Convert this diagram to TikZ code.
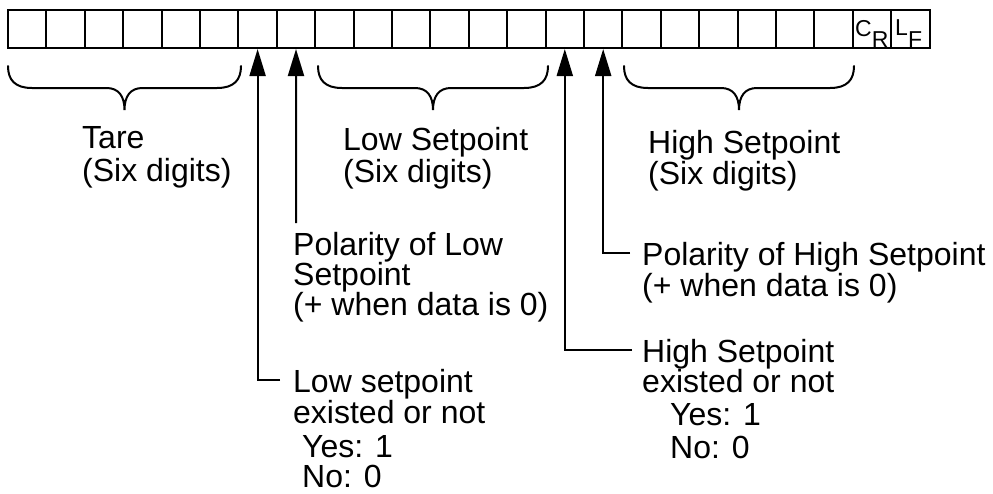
\documentclass[tikz,border=0pt]{standalone}
\usepackage{fontspec}
\setmainfont{Liberation Sans}
\usetikzlibrary{arrows.meta}
\newcommand{\mybrace}[3]{% left x, right x, name
  \draw[bracestyle] (#1,66) .. controls (#1,80) and ({#1+7},88) .. ({#1+24},88)
    -- ({(#1+#2)/2-18},88) .. controls ({(#1+#2)/2-6},88) and ({(#1+#2)/2},96) .. ({(#1+#2)/2},110)
    .. controls ({(#1+#2)/2},96) and ({(#1+#2)/2+6},88) .. ({(#1+#2)/2+18},88)
    -- ({#2-24},88) .. controls ({#2-7},88) and (#2,80) .. (#2,66);
  \coordinate (#3) at ({(#1+#2)/2},110);
}
\begin{document}
\begin{tikzpicture}[x=1pt,y=-1pt,
  cell/.style={draw,line width=2pt,minimum width=38.4pt,minimum height=38pt,inner sep=0pt},
  lbl/.style={anchor=base west,inner sep=0pt,font=\fontsize{32}{33}\selectfont},
  small/.style={anchor=base west,inner sep=0pt,font=\fontsize{23}{23}\selectfont},
  arr/.style={line width=2pt,-{Triangle[length=27pt,width=16pt]}},
  bracestyle/.style={line width=2pt,line cap=round}]
\useasboundingbox (0,0) rectangle (993,493);
\fill[white] (0,0) rectangle (993,493);
% row of cells
\foreach \i in {0,...,23}{
  \node[cell] (b\i) at ({8+38.4*(\i+0.5)},29) {};
}
\node[small] (cr) at (855,36) {C\raisebox{-11pt}{R}};
\node[small] (lf) at (895,35) {L\raisebox{-12pt}{F}};
% braces
\mybrace{8}{241}{tipT}
\mybrace{318}{548}{tipL}
\mybrace{624}{854}{tipH}
% brace labels
\node[lbl] (t1) at (82,148) {Tare};
\node[lbl] (t2) at (82,181) {(Six digits)};
\node[lbl] (l1) at (343,150) {Low Setpoint};
\node[lbl] (l2) at (343,182) {(Six digits)};
\node[lbl] (h1) at (648,153) {High Setpoint};
\node[lbl] (h2) at (648,184) {(Six digits)};
% polarity of low
\node[lbl] (pl1) at (293,255) {Polarity of Low};
\node[lbl] (pl2) at (293,285) {Setpoint};
\node[lbl] (pl3) at (293,315) {(+ when data is 0)};
% low setpoint existed
\node[lbl] (le1) at (293,392) {Low setpoint};
\node[lbl] (le2) at (293,423) {existed or not};
\node[lbl] (le3) at (302,457) {Yes: 1};
\node[lbl] (le4) at (302,487) {No: 0};
% polarity of high
\node[lbl] (ph1) at (642,265) {Polarity of High Setpoint};
\node[lbl] (ph2) at (642,296) {(+ when data is 0)};
% high setpoint existed
\node[lbl] (he1) at (642,362) {High Setpoint};
\node[lbl] (he2) at (642,392) {existed or not};
\node[lbl] (he3) at (670,425) {Yes: 1};
\node[lbl] (he4) at (670,458) {No: 0};
% connectors
\coordinate (kA) at (280,380);
\coordinate (kB) at (296,223);
\coordinate (kC) at (632,350);
\coordinate (kD) at (630,253);
\draw[arr] (kA) -| (b6.south);
\draw[arr] (kB) -- (b7.south);
\draw[arr] (kC) -| (b14.south);
\draw[arr] (kD) -| (b15.south);
\end{tikzpicture}
\end{document}
